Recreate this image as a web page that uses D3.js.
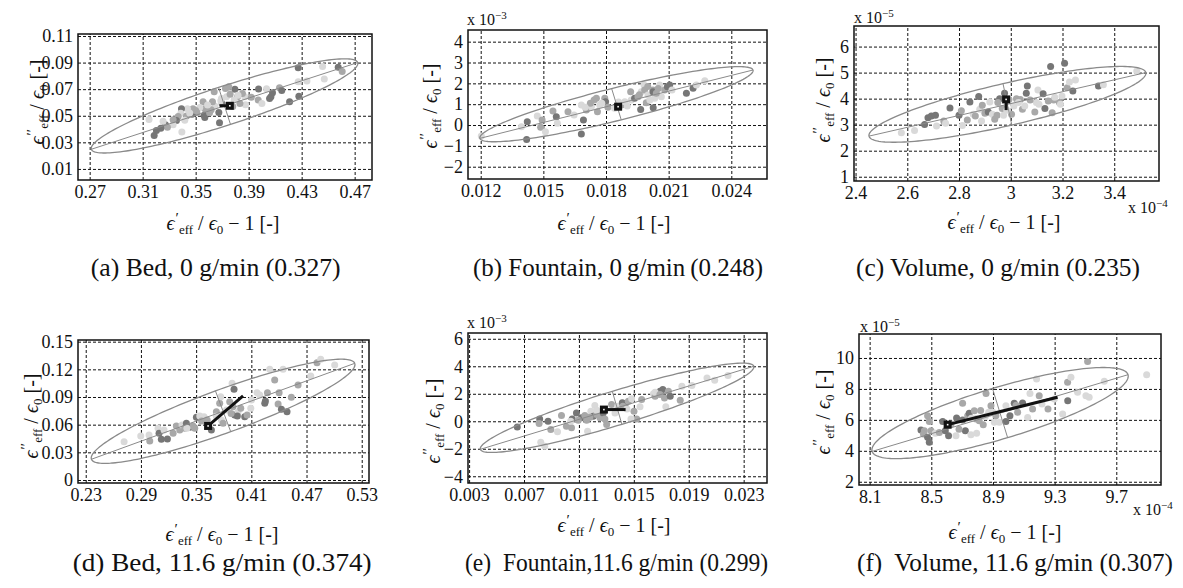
<!DOCTYPE html>
<html>
<head>
<meta charset="utf-8">
<script src="https://cdn.jsdelivr.net/npm/d3@7"></script>
<style>
  body { margin: 0; background: #fff; }
  svg text { font-family: "Liberation Serif", "DejaVu Serif", serif; fill: #111; }
  .tick text { font-size: 18px; }
</style>
</head>
<body>
<script>
// grey shades used for the measurement dots: 0 dark, 1 medium, 2 light
const shades = ["#767676", "#a8a8a8", "#d9d9d9"];

// tick values per panel
const ticksAx = [0.27, 0.31, 0.35, 0.39, 0.43, 0.47];
const ticksAy = [0.01, 0.03, 0.05, 0.07, 0.09, 0.11];
const ticksBx = [0.012, 0.015, 0.018, 0.021, 0.024];
const ticksBy = [-2, -1, 0, 1, 2, 3, 4];
const ticksCx = [2.4, 2.6, 2.8, 3, 3.2, 3.4];
const ticksCy = [1, 2, 3, 4, 5, 6];
const ticksDx = [0.23, 0.29, 0.35, 0.41, 0.47, 0.53];
const ticksDy = [0, 0.03, 0.06, 0.09, 0.12, 0.15];
const ticksEx = [0.003, 0.007, 0.011, 0.015, 0.019, 0.023];
const ticksEy = [-4, -2, 0, 2, 4, 6];
const ticksFx = [8.1, 8.5, 8.9, 9.3, 9.7];
const ticksFy = [2, 4, 6, 8, 10];

// points [x, y, shade]
const ptsA = [[0.4274,0.0862,0],[0.4458,0.087,2],[0.4576,0.0865,0],[0.4606,0.0832,1],[0.4471,0.0777,2],[0.434,0.0761,2],[0.4274,0.0756,2],[0.4279,0.0646,0],[0.4209,0.0605,0],[0.4133,0.0711,1],[0.408,0.0673,0],[0.4068,0.0643,0],[0.4058,0.063,0],[0.3975,0.0701,0],[0.4035,0.0704,2],[0.3972,0.0618,1],[0.40,0.0593,2],[0.3871,0.0643,2],[0.3876,0.0583,2],[0.3853,0.0668,1],[0.3796,0.0699,0],[0.375,0.0719,1],[0.3816,0.0643,1],[0.3834,0.0593,1],[0.3791,0.0618,2],[0.3733,0.0643,2],[0.3695,0.063,2],[0.364,0.0681,1],[0.3645,0.0573,2],[0.3627,0.0605,1],[0.3675,0.0524,0],[0.368,0.0448,0],[0.3569,0.0553,1],[0.3564,0.0504,0],[0.3569,0.0486,0],[0.3556,0.0605,1],[0.3531,0.0562,2],[0.351,0.0523,1],[0.348,0.0553,1],[0.3438,0.0553,2],[0.3393,0.0553,0],[0.3388,0.0519,2],[0.3368,0.0494,1],[0.3431,0.0499,1],[0.3418,0.0467,2],[0.3355,0.0464,0],[0.333,0.0432,2],[0.3396,0.0378,2],[0.3272,0.0432,0],[0.3287,0.0414,1],[0.3254,0.0459,2],[0.3237,0.0406,0],[0.3204,0.0389,0],[0.3148,0.0472,2],[0.3725,0.0705,1],[0.3617,0.0545,1],[0.3473,0.0511,0],[0.3605,0.0522,1],[0.3700,0.0590,0],[0.3780,0.0570,1],[0.3187,0.0352,0],[0.3820,0.0655,2],[0.3760,0.0662,1],[0.3690,0.0612,2],[0.3590,0.0580,2],[0.3500,0.0540,1],[0.3455,0.0520,2],[0.3330,0.0470,1],[0.3920,0.0640,1],[0.4150,0.0690,0]];
const ptsB = [[0.01203,-0.53,2],[0.01395,-0.08,2],[0.01423,0.16,0],[0.0142,-0.69,0],[0.01471,0.43,2],[0.01494,0.24,1],[0.01487,-0.11,1],[0.0151,-0.32,2],[0.01546,0.67,1],[0.01562,0.4,0],[0.01567,0.08,2],[0.01618,0.64,1],[0.01647,0.48,2],[0.01692,0.24,0],[0.01682,-0.43,0],[0.01682,0.96,2],[0.01706,0.72,1],[0.0173,0.88,2],[0.01743,1.2,1],[0.01754,1.28,1],[0.01759,0.64,1],[0.0177,0.96,2],[0.01794,1.28,1],[0.01798,1.12,0],[0.01809,0.85,1],[0.01841,0.8,2],[0.01874,0.96,1],[0.0189,1.12,2],[0.01918,1.6,1],[0.01921,1.2,2],[0.01937,1.28,0],[0.01953,1.36,1],[0.01966,0.75,0],[0.01969,1.6,2],[0.01982,1.92,2],[0.01985,1.68,1],[0.02001,1.44,2],[0.02025,1.68,1],[0.02026,0.83,0],[0.02033,1.28,2],[0.02025,1.6,0],[0.02057,1.92,2],[0.02065,1.36,2],[0.02081,1.68,1],[0.02094,1.84,0],[0.02105,1.92,0],[0.02116,1.68,2],[0.02185,1.52,0],[0.02217,1.76,0],[0.02233,1.92,2],[0.02273,2.13,2],[0.01993,1.07,1],[0.02041,1.52,1],[0.01902,0.91,2],[0.01725,1.05,1],[0.01780,1.05,2],[0.01960,1.45,1],[0.02010,1.20,2],[0.02050,1.75,1],[0.01860,1.10,2],[0.01700,0.85,2],[0.02000,1.85,1]];
const ptsC = [[2.577,2.69,2],[2.628,2.78,2],[2.667,3.01,0],[2.68,3.27,0],[2.693,3.33,0],[2.709,3.36,0],[2.713,2.95,2],[2.741,3.14,1],[2.748,3.05,2],[2.765,3.64,0],[2.8,3.36,0],[2.809,3.53,1],[2.813,2.97,2],[2.832,3.18,1],[2.842,3.87,0],[2.855,3.4,2],[2.863,3.33,1],[2.876,4.08,0],[2.88,3.59,2],[2.887,3.14,2],[2.9,3.44,1],[2.913,3.49,0],[2.919,3.87,2],[2.929,3.4,2],[2.938,3.21,1],[2.947,3.36,1],[2.957,4.0,0],[2.967,3.62,1],[2.972,3.36,2],[2.976,4.21,0],[2.993,3.97,1],[3.003,3.4,1],[3.012,3.72,2],[3.022,4.0,1],[3.037,3.97,1],[3.045,3.59,1],[3.054,3.72,2],[3.06,4.21,0],[3.064,4.49,0],[3.093,3.49,1],[3.099,3.85,2],[3.105,4.33,2],[3.109,3.78,2],[3.125,4.19,0],[3.132,3.62,0],[3.145,3.91,1],[3.154,5.23,0],[3.16,3.46,1],[3.166,3.95,1],[3.188,3.85,1],[3.192,3.78,2],[3.198,4.1,2],[3.208,5.36,0],[3.218,4.42,1],[3.227,4.64,2],[3.24,4.29,0],[3.25,4.72,2],[3.339,4.49,0],[3.358,4.53,2],[3.487,5.06,2],[2.950,3.85,1],[3.030,3.85,2],[2.890,3.75,1],[2.985,3.55,2],[3.075,3.95,1],[3.170,4.05,2]];
const ptsD = [[0.2717,0.0416,2],[0.2898,0.0477,2],[0.2988,0.0488,2],[0.2996,0.0423,1],[0.3086,0.056,2],[0.3097,0.0506,0],[0.3122,0.0441,0],[0.3151,0.0542,2],[0.3188,0.0445,0],[0.325,0.0506,1],[0.3285,0.0586,1],[0.3322,0.0542,1],[0.3347,0.0596,2],[0.3376,0.056,1],[0.3394,0.0615,0],[0.343,0.0571,0],[0.3467,0.0586,1],[0.3503,0.068,0],[0.354,0.0694,2],[0.3586,0.0687,2],[0.3485,0.056,1],[0.3666,0.0542,0],[0.372,0.0741,1],[0.3756,0.0831,1],[0.3767,0.0904,2],[0.3775,0.0651,2],[0.3793,0.0615,1],[0.3891,0.1048,2],[0.3912,0.0983,0],[0.3865,0.0849,1],[0.3901,0.0795,1],[0.3919,0.0705,0],[0.3956,0.0741,2],[0.3985,0.0777,1],[0.3948,0.0694,0],[0.4028,0.0687,0],[0.4054,0.0705,1],[0.4094,0.0777,2],[0.4101,0.0868,2],[0.4162,0.0947,2],[0.4191,0.0922,2],[0.4246,0.0831,0],[0.4275,0.0947,1],[0.4253,0.0857,0],[0.43,0.12,2],[0.4354,0.1084,1],[0.4391,0.0824,1],[0.4402,0.0947,1],[0.4427,0.0766,0],[0.4445,0.12,2],[0.4488,0.0741,0],[0.4535,0.0896,1],[0.4608,0.103,1],[0.4746,0.1128,2],[0.4814,0.1272,1],[0.4854,0.1308,2],[0.5006,0.1247,2],[0.3830,0.0760,2],[0.3880,0.0720,1],[0.3400,0.0560,2],[0.3560,0.0640,1],[0.3720,0.0690,2],[0.3620,0.0650,1]];
const ptsE = [[0.00651,-0.41,0],[0.00814,0.17,0],[0.0081,-0.16,1],[0.00875,0.01,0],[0.00895,-0.6,1],[0.00822,-1.52,2],[0.00851,-1.81,2],[0.00944,-0.77,2],[0.00973,0.42,1],[0.01009,-0.36,1],[0.01046,-0.48,1],[0.01051,0.17,0],[0.01082,0.61,0],[0.01119,0.25,0],[0.01156,0.08,1],[0.01143,0.42,1],[0.01163,-0.72,2],[0.01187,0.73,2],[0.01204,0.37,0],[0.01216,1.14,2],[0.01229,0.49,1],[0.01253,0.25,1],[0.01277,0.61,0],[0.01302,-0.24,1],[0.01338,1.22,1],[0.01363,0.61,2],[0.01382,1.09,2],[0.01416,1.34,0],[0.01436,1.22,0],[0.0146,1.46,1],[0.01484,1.63,2],[0.01501,0.73,1],[0.01521,0.17,1],[0.01479,0.17,2],[0.01545,1.05,2],[0.01557,1.58,1],[0.01643,2.01,2],[0.01655,1.82,1],[0.01691,2.18,0],[0.01711,2.31,0],[0.01723,1.7,1],[0.01752,2.18,1],[0.01765,1.82,0],[0.01733,1.05,2],[0.01838,1.53,1],[0.0185,2.55,2],[0.01923,2.6,2],[0.02033,3.15,2],[0.02089,2.98,2],[0.02186,3.32,2],[0.01655,2.11,2],[0.01289,0.17,1],[0.01095,0.08,1],[0.01180,0.30,1],[0.01420,1.10,1],[0.01450,0.90,2],[0.01040,0.00,2],[0.01690,1.95,1],[0.01230,0.80,2]];
const ptsF = [[8.433,5.34,0],[8.455,5.30,1],[8.449,5.08,1],[8.476,6.27,1],[8.487,5.90,1],[8.476,4.87,0],[8.487,4.55,0],[8.498,5.30,1],[8.526,5.13,2],[8.552,5.19,1],[8.574,5.90,0],[8.591,5.30,0],[8.612,4.98,0],[8.628,5.73,1],[8.664,6.12,0],[8.66,4.98,2],[8.703,7.07,1],[8.703,5.99,0],[8.721,5.30,0],[8.736,6.27,1],[8.746,6.42,0],[8.757,5.04,2],[8.779,6.59,1],[8.79,6.05,1],[8.794,5.13,2],[8.811,5.95,1],[8.837,5.69,1],[8.855,7.71,1],[8.872,6.49,2],[8.887,6.92,1],[8.909,5.84,2],[8.919,6.27,1],[8.941,5.84,2],[8.984,6.92,2],[8.984,5.90,0],[9.01,6.27,0],[9.038,7.07,0],[9.06,6.49,1],[9.092,7.09,0],[9.125,6.16,2],[9.14,7.71,2],[9.157,6.70,1],[9.2,7.56,1],[9.218,7.02,2],[9.257,6.70,1],[9.298,7.35,2],[9.352,6.38,2],[9.385,7.24,0],[9.384,8.43,1],[9.406,8.75,2],[9.449,7.78,2],[9.503,7.56,2],[9.524,7.46,2],[9.514,9.78,1],[9.622,8.49,2],[9.897,8.92,2],[9.183,8.64,2],[8.760,6.10,2],[8.820,6.60,1],[8.900,6.50,2],[9.050,6.95,1],[8.680,5.40,1],[8.850,6.20,2]];

// ellipses: centre, end of major axis, end of minor axis
const ellA = [[0.3718,0.0574],[0.4723,0.09],[0.3763,0.0435]];
const ellB = [[0.0185,1.0],[0.02504,2.64],[0.01873,0.25]];
const ellC = [[2.987,3.78],[3.522,5.0],[3.004,2.985]];
const ellD = [[0.3793,0.0745],[0.5224,0.1265],[0.3876,0.0524]];
const ellE = [[0.01378,0.98],[0.02374,4.0],[0.01413,-0.22]];
const ellF = [[8.946,6.44],[9.776,8.92],[8.995,4.85]];

// mean marker and the end of the black line from it
const meanA = [[0.3758,0.0575],[0.3682,0.0575]];
const meanB = [[0.01858,0.88],[0.01858,0.88]];
const meanC = [[2.982,3.97],[2.982,3.56]];
const meanD = [[0.363,0.0586],[0.401,0.0911]];
const meanE = [[0.01282,0.85],[0.0144,0.85]];
const meanF = [[8.606,5.69],[9.319,7.46]];

const captions = ["(a) Bed, 0 g/min (0.327)", "(b) Fountain, 0\u2009g/min\u2009(0.248)", "(c) Volume, 0 g/min (0.235)",
                  "(d) Bed, 11.6 g/min (0.374)", "(e)  Fountain,11.6 g/min (0.299)", "(f)  Volume, 11.6 g/min (0.307)"];

const panels = [
  {box:[78,34,372,180], xd:[0.2612,0.4831], yd:[0.00167,0.1115], xt:ticksAx, yt:ticksAy, pts:ptsA, ell:ellA, mean:meanA,
   cap:[90.7,340.7,276], xl:[223,230], yl:[44,102]},
  {box:[468,30,767,179], xd:[0.011392,0.025709], yd:[-2.59,4.56], xt:ticksBx, yt:ticksBy, pts:ptsB, ell:ellB, mean:meanB,
   cap:[473,763,276], xl:[614,230], yl:[437,106], ym:[467,25,"3"]},
  {box:[854,26,1159,181], xd:[2.394,3.573], yd:[0.836,6.79], xt:ticksCx, yt:ticksCy, pts:ptsC, ell:ellC, mean:meanC,
   cap:[856,1140,276], xl:[1004,229], yl:[830,100], ym:[854,23,"5"], xm:[1128,213,"4"]},
  {box:[78,340,369,483], xd:[0.2216,0.5379], yd:[-0.00325,0.1518], xt:ticksDx, yt:ticksDy, pts:ptsD, ell:ellD, mean:meanD,
   cap:[72.7,371.7,571], xl:[222,541], yl:[38,416]},
  {box:[468,333,767,483], xd:[0.00292,0.0247], yd:[-4.49,6.42], xt:ticksEx, yt:ticksEy, pts:ptsE, ell:ellE, mean:meanE,
   cap:[465,768,571], xl:[614,532], yl:[440,421], ym:[467,328,"3"]},
  {box:[859,334,1161,485], xd:[8.031,9.99], yd:[1.79,11.55], xt:ticksFx, yt:ticksFy, pts:ptsF, ell:ellF, mean:meanF,
   cap:[857,1173,571], xl:[1005,539], yl:[830,412], ym:[860,331.7,"5"], xm:[1133,515,"4"]}
];

const svg = d3.select("body").append("svg")
    .attr("width", 1183)
    .attr("height", 588);

const fmt = d => String(d).replace("-", "\u2212");

// epsilon label with sub/superscripts
function epsLabel(t, dbl, tail) {
    t.append("tspan").attr("font-style", "italic").text("\u03F5");
    t.append("tspan").attr("font-size", 15).attr("dx", 1).attr("dy", -7).text(dbl ? "\u2032\u2032" : "\u2032");
    t.append("tspan").attr("font-size", 13).attr("dy", 11).text("eff");
    t.append("tspan").attr("dy", -4).text(" / ");
    t.append("tspan").attr("font-style", "italic").text("\u03F5");
    t.append("tspan").attr("font-size", 13).attr("dy", 4).text("0");
    t.append("tspan").attr("dy", -4).text(tail);
}

function mult(g, x, y, e) {
    const t = g.append("text").attr("x", x).attr("y", y).attr("font-size", 16);
    t.append("tspan").text("x 10");
    t.append("tspan").attr("font-size", 11).attr("dy", -6).text("\u2212" + e);
}

panels.forEach(function(p, i) {
    const [x0, y0, x1, y1] = p.box;
    const x = d3.scaleLinear().domain(p.xd).range([x0, x1]);
    const y = d3.scaleLinear().domain(p.yd).range([y1, y0]);
    const g = svg.append("g");

    //GRID + TICK LABELS
    g.append("g")
        .attr("transform", `translate(0,${y1})`)
        .call(d3.axisBottom(x).tickValues(p.xt).tickSize(-(y1 - y0)).tickPadding(5).tickFormat(fmt))
        .call(a => a.select(".domain").remove())
        .call(a => a.selectAll(".tick line").attr("stroke", "#111").attr("stroke-dasharray", "3,2"));

    g.append("g")
        .attr("transform", `translate(${x0},0)`)
        .call(d3.axisLeft(y).tickValues(p.yt).tickSize(-(x1 - x0)).tickPadding(5).tickFormat(fmt))
        .call(a => a.select(".domain").remove())
        .call(a => a.selectAll(".tick line").attr("stroke", "#111").attr("stroke-dasharray", "3,2"));

    //POINTS
    g.append("g").selectAll("circle")
        .data(p.pts)
        .join("circle")
        .attr("cx", d => x(d[0]))
        .attr("cy", d => y(d[1]))
        .attr("r", 3.5)
        .attr("fill", d => shades[d[2]]);

    //ELLIPSE AND ITS AXES
    const [c, a, b] = p.ell;
    const ua = [a[0] - c[0], a[1] - c[1]];
    const ub = [b[0] - c[0], b[1] - c[1]];
    const ts = d3.range(0, 2 * Math.PI + 0.001, Math.PI / 90);
    const line = d3.line().x(d => x(d[0])).y(d => y(d[1]));
    g.append("path")
        .attr("d", line(ts.map(t => [c[0] + Math.cos(t) * ua[0] + Math.sin(t) * ub[0],
                                     c[1] + Math.cos(t) * ua[1] + Math.sin(t) * ub[1]])))
        .attr("fill", "none").attr("stroke", "#8a8a8a").attr("stroke-width", 1.3);
    g.append("path")
        .attr("d", line([[c[0] - ua[0], c[1] - ua[1]], a]))
        .attr("stroke", "#8a8a8a").attr("stroke-width", 1);
    g.append("path")
        .attr("d", line([[c[0] - ub[0], c[1] - ub[1]], b]))
        .attr("stroke", "#8a8a8a").attr("stroke-width", 1);

    //MEAN LINE + SQUARE
    const [m, e] = p.mean;
    g.append("path").attr("d", line([m, e]))
        .attr("stroke", "#111").attr("stroke-width", 3);
    g.append("rect")
        .attr("x", x(m[0]) - 4).attr("y", y(m[1]) - 4)
        .attr("width", 8).attr("height", 8).attr("fill", "#111");
    g.append("rect")
        .attr("x", x(m[0]) - 0.8).attr("y", y(m[1]) - 0.8)
        .attr("width", 1.6).attr("height", 1.6).attr("fill", "#fff");

    //BOX
    g.append("rect")
        .attr("x", x0).attr("y", y0)
        .attr("width", x1 - x0).attr("height", y1 - y0)
        .attr("fill", "none").attr("stroke", "#111").attr("stroke-width", 1.5);

    //AXIS LABELS
    const xl = g.append("text").attr("x", p.xl[0]).attr("y", p.xl[1])
        .attr("text-anchor", "middle").attr("font-size", 20);
    epsLabel(xl, false, " \u2212 1 [-]");

    const yl = g.append("text")
        .attr("transform", `translate(${p.yl[0]},${p.yl[1]}) rotate(-90)`)
        .attr("text-anchor", "middle").attr("font-size", 20);
    epsLabel(yl, true, " [-]");

    if (p.ym) mult(g, p.ym[0], p.ym[1], p.ym[2]);
    if (p.xm) mult(g, p.xm[0], p.xm[1], p.xm[2]);

    //CAPTION
    g.append("text")
        .attr("x", p.cap[0]).attr("y", p.cap[2])
        .attr("textLength", p.cap[1] - p.cap[0]).attr("lengthAdjust", "spacingAndGlyphs")
        .attr("font-size", 25)
        .attr("xml:space", "preserve")
        .text(captions[i]);
});
</script>
</body>
</html>
